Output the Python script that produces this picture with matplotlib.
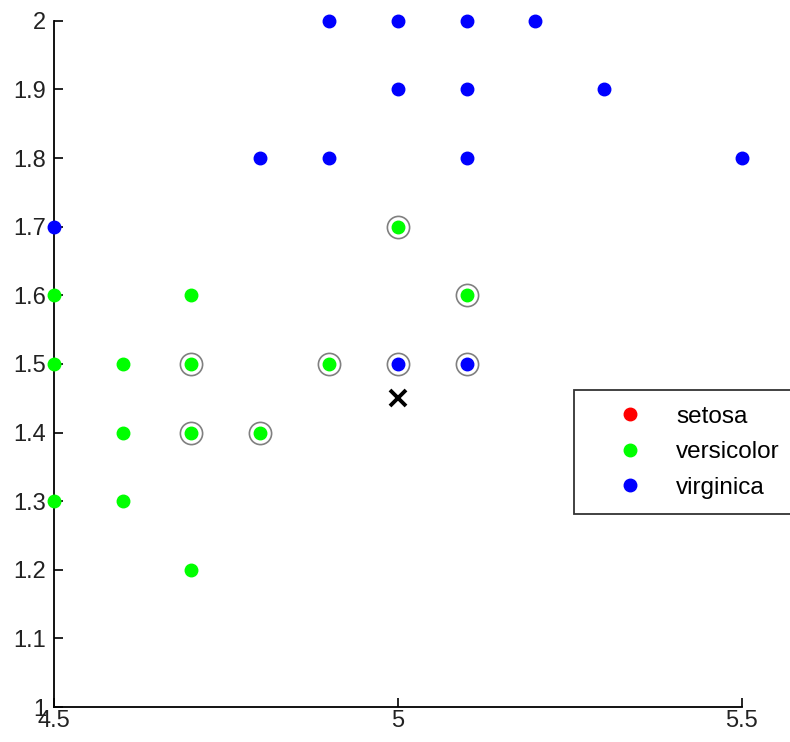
import matplotlib
matplotlib.use('Agg')
import matplotlib.pyplot as plt
from matplotlib.ticker import FuncFormatter

plt.rcParams['font.family'] = ['Liberation Sans', 'DejaVu Sans']

# versicolor points (sepal length, petal width)
versicolor_x = [4.5, 4.5, 4.5, 4.6, 4.6, 4.6, 4.7, 4.7, 4.7, 4.7, 4.8, 4.9, 5.0, 5.1]
versicolor_y = [1.6, 1.5, 1.3, 1.5, 1.4, 1.3, 1.6, 1.5, 1.4, 1.2, 1.4, 1.5, 1.7, 1.6]

# virginica points
virginica_x = [4.5, 4.8, 4.9, 4.9, 5.0, 5.0, 5.0, 5.1, 5.1, 5.1, 5.1, 5.2, 5.3, 5.5]
virginica_y = [1.7, 1.8, 1.8, 2.0, 2.0, 1.9, 1.5, 2.0, 1.9, 1.8, 1.5, 2.0, 1.9, 1.8]

# nearest neighbours that get a circle
neighbour_x = [4.7, 4.7, 4.8, 4.9, 5.0, 5.0, 5.1, 5.1]
neighbour_y = [1.5, 1.4, 1.4, 1.5, 1.7, 1.5, 1.6, 1.5]

# query point
query_x = [5.0]
query_y = [1.45]

fig = plt.figure(figsize=(7.9, 7.42), dpi=100)
ax = fig.add_axes([0.068, 0.047, 0.871, 0.925])

ms = 9
ax.plot([], [], 'o', color='#ff0000', markersize=ms, label='setosa')
ax.plot(versicolor_x, versicolor_y, 'o', color='#00ff00', markersize=ms,
        label='versicolor', clip_on=False, zorder=3)
ax.plot(virginica_x, virginica_y, 'o', color='#0000ff', markersize=ms,
        label='virginica', clip_on=False, zorder=3)
ax.plot(neighbour_x, neighbour_y, 'o', markerfacecolor='none',
        markeredgecolor='#808080', markersize=16, markeredgewidth=1.2,
        clip_on=False, zorder=2)
ax.plot(query_x, query_y, 'x', color='black', markersize=11,
        markeredgewidth=2.8, zorder=4)

ax.set_xlim(4.5, 5.5)
ax.set_ylim(1, 2)
ax.set_xticks([4.5, 5, 5.5])
ax.set_yticks([1 + i / 10 for i in range(11)])
fmt = FuncFormatter(lambda v, p: '%g' % round(v, 2))
ax.xaxis.set_major_formatter(fmt)
ax.yaxis.set_major_formatter(fmt)
ax.tick_params(direction='in', length=6.5, width=1.2, labelsize=17,
               labelcolor='#222222')
ax.tick_params(axis='y', pad=5.5)
ax.tick_params(axis='x', pad=2)
ax.spines['top'].set_visible(False)
ax.spines['right'].set_visible(False)
ax.spines['left'].set_linewidth(1.3)
ax.spines['bottom'].set_linewidth(1.3)

leg = ax.legend(loc='upper left', bbox_to_anchor=(0.756, 0.462),
                borderaxespad=0, fontsize=17.5, frameon=True, fancybox=False,
                handletextpad=0.25, borderpad=0.65, labelspacing=0.55,
                handlelength=3.3)
leg.get_frame().set_edgecolor('black')
leg.get_frame().set_linewidth(1.3)
leg.set_clip_on(False)

fig.savefig('out.png', dpi=100)
